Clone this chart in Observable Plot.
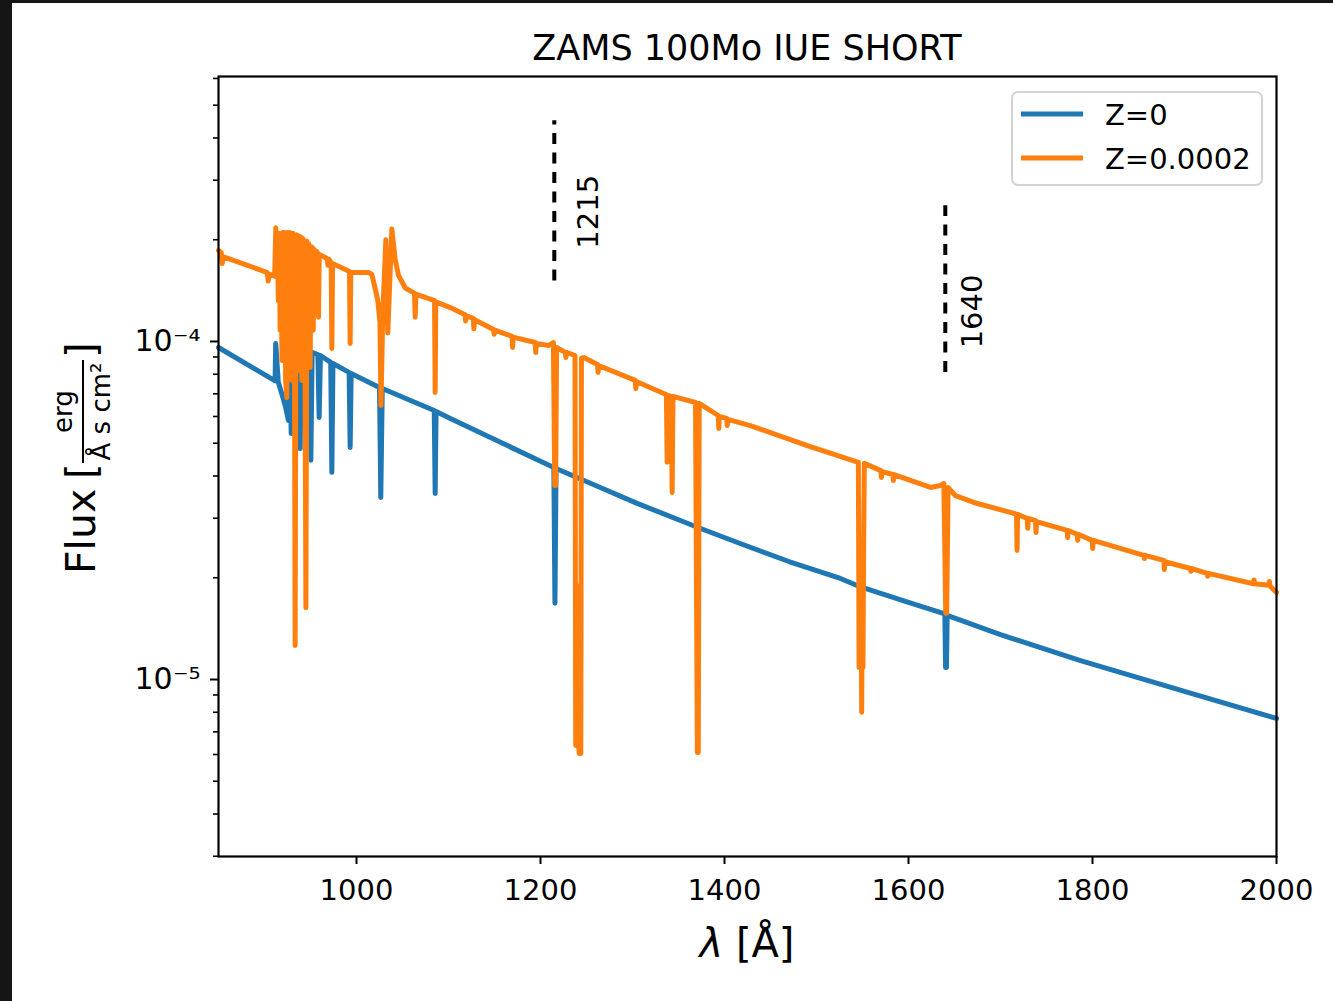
<!DOCTYPE html>
<html><head><meta charset="utf-8">
<script src="https://cdn.jsdelivr.net/npm/d3@7"></script>
<script src="https://cdn.jsdelivr.net/npm/@observablehq/plot@0.6"></script>
<style>
html,body{margin:0;padding:0;background:#151515;width:1333px;height:1001px;overflow:hidden;}
#page{position:absolute;left:12px;top:3px;width:1321px;height:998px;background:#fff;}
</style></head><body><div id="page"></div><script>
// ---- data ----
const title = "ZAMS 100Mo IUE SHORT";
const seriesNames = ["Z=0", "Z=0.0002"];
const seriesColors = ["#1f77b4", "#ff7f0e"];

// Z=0 spectrum: wavelength [Å] and flux [erg / (Å s cm^2)]
const blueLam = [850, 911.5, 912.2, 915, 920, 923, 926, 927.5, 929, 930.5, 937.5, 938.8, 940, 949, 950.4, 951.8,
  958, 959.4, 960.8, 972, 973.2, 974.4, 992, 993.1, 994.2, 1025, 1026.4, 1028, 1084.5, 1085.5, 1086.5, 1102,
  1200, 1214.5, 1215.7, 1216.9, 1265, 1305, 1374, 1417, 1470, 1526, 1548, 1600, 1639.5, 1640.3, 1641.3, 1642, 1700, 1787, 1900, 2000];
const blueFlux = [9.60e-5, 7.65e-5, 9.87e-5, 7.57e-5, 6.83e-5, 6.38e-5, 5.84e-5, 9.41e-5, 5.34e-5, 9.41e-5, 9.53e-5, 4.82e-5, 9.53e-5, 9.28e-5, 4.45e-5, 9.28e-5,
  9.15e-5, 5.96e-5, 9.09e-5, 8.67e-5, 4.10e-5, 8.61e-5, 8.10e-5, 4.86e-5, 8.04e-5, 7.31e-5, 3.455e-5, 7.26e-5, 6.25e-5, 3.55e-5, 6.21e-5, 5.92e-5,
  4.42e-5, 4.24e-5, 1.68e-5, 4.21e-5, 3.70e-5, 3.32e-5, 2.797e-5, 2.526e-5, 2.234e-5, 1.99e-5, 1.878e-5, 1.69e-5, 1.563e-5, 1.085e-5, 1.085e-5, 1.547e-5, 1.358e-5, 1.138e-5, 0.922e-5, 0.767e-5];

// Z=0.0002 spectrum
const orangeLam = [850, 853, 854, 855.5, 903, 904, 905.5, 911, 912.3, 913.2, 914, 915, 916, 917, 918, 919, 920, 921, 922, 923, 924.3,
  925.2, 926.5, 927.5, 928.5, 929.7, 930.6, 931.5, 932.3, 933.3, 934.3, 935.5, 936.5, 937.8, 938.8, 939.8, 940.6, 941.5, 942.5, 943.5,
  945, 946, 947, 948, 949.6, 950.6, 951.3, 952, 953, 954, 955.5, 956.5, 958, 958.7, 959.5, 968, 969, 970, 972.5, 973.2, 974, 992.4, 993.1, 993.8,
  1013, 1016.7, 1019.6, 1023, 1025.5, 1026.6, 1028.5, 1031.9, 1034, 1038.4, 1042, 1045.6, 1053, 1063, 1063.8, 1064.6,
  1084.8, 1085.5, 1086.2, 1102, 1118, 1118.6, 1119.3, 1127, 1127.6, 1128.3, 1149, 1149.6, 1150.3, 1169, 1169.6, 1170.3,
  1194.2, 1194.8, 1195.5, 1209, 1214, 1215.5, 1216.5, 1217.5, 1227, 1227.6, 1228.3,
  1237.5, 1238.3, 1239, 1239.8, 1240.6, 1241.4, 1242.2, 1243, 1243.8, 1244.5,
  1247, 1262, 1262.6, 1263.2, 1303, 1303.6, 1304.2, 1334, 1336.8, 1337.7, 1338.6, 1342.2, 1343.1, 1344, 1368.5, 1370.5, 1371.5, 1372.5,
  1393.2, 1393.8, 1394.4, 1402.4, 1403, 1403.6, 1428, 1490, 1545.5, 1546.3, 1547, 1547.7, 1548.4, 1549.1, 1549.8, 1550.5, 1551.2, 1552,
  1570, 1570.6, 1571.2, 1583, 1583.6, 1584.2, 1624, 1634.8, 1638.4, 1640.5, 1641.5, 1643, 1651, 1671, 1714.5, 1717.4, 1718, 1718.6,
  1729, 1729.6, 1730.2, 1738, 1738.6, 1739.2, 1772.5, 1773, 1773.6, 1783.3, 1783.9, 1784.5, 1799.6, 1800.2, 1800.8,
  1855.8, 1856.4, 1857, 1877.5, 1878.1, 1878.7, 1906.5, 1907, 1907.6, 1924.6, 1925.2, 1925.8, 1975, 1975.6, 1976.2, 1991.7, 1992.3, 1992.9, 2000];
const orangeFlux = [18.6e-5, 18.3e-5, 17.0e-5, 17.8e-5, 16.0e-5, 15.1e-5, 15.8e-5, 15.6e-5, 21.7e-5, 16.0e-5, 20.6e-5, 13.2e-5, 20.9e-5, 10.8e-5, 20.7e-5, 8.79e-5, 21.0e-5, 9.73e-5, 21.0e-5, 7.67e-5, 6.83e-5,
  21.0e-5, 10.8e-5, 21.0e-5, 9.41e-5, 7.67e-5, 20.9e-5, 13.2e-5, 20.7e-5, 1.26e-5, 20.7e-5, 12.35e-5, 20.6e-5, 8.21e-5, 20.4e-5, 13.2e-5, 7.67e-5, 20.2e-5, 11.5e-5, 19.9e-5,
  1.63e-5, 19.8e-5, 14.2e-5, 19.5e-5, 8.38e-5, 19.1e-5, 13.2e-5, 19.0e-5, 10.8e-5, 18.7e-5, 14.2e-5, 18.5e-5, 18.2e-5, 11.8e-5, 18.1e-5, 17.6e-5, 16.8e-5, 17.5e-5, 17.1e-5, 9.53e-5, 17.0e-5, 16.1e-5, 9.87e-5, 16.0e-5,
  16.0e-5, 15.8e-5, 14.6e-5, 13.3e-5, 11.4e-5, 6.47e-5, 11.9e-5, 20.0e-5, 10.6e-5, 21.5e-5, 17.5e-5, 15.7e-5, 14.4e-5, 13.9e-5, 11.8e-5, 13.8e-5,
  13.2e-5, 7.07e-5, 13.1e-5, 12.6e-5, 12.0e-5, 11.5e-5, 11.9e-5, 11.7e-5, 10.9e-5, 11.6e-5, 10.85e-5, 10.5e-5, 10.8e-5, 10.35e-5, 9.60e-5, 10.3e-5,
  9.93e-5, 9.28e-5, 9.87e-5, 9.73e-5, 9.93e-5, 3.75e-5, 3.75e-5, 9.60e-5, 9.28e-5, 8.97e-5, 9.28e-5,
  9.09e-5, 0.638e-5, 1.90e-5, 0.638e-5, 1.60e-5, 0.638e-5, 0.604e-5, 1.50e-5, 0.604e-5, 8.91e-5,
  8.97e-5, 8.55e-5, 8.10e-5, 8.49e-5, 7.67e-5, 7.26e-5, 7.61e-5, 7.02e-5, 6.97e-5, 4.39e-5, 6.92e-5, 6.88e-5, 3.575e-5, 6.88e-5, 6.60e-5, 0.608e-5, 0.608e-5, 6.56e-5,
  6.04e-5, 5.53e-5, 6.00e-5, 5.92e-5, 5.64e-5, 5.88e-5, 5.64e-5, 4.92e-5, 4.39e-5, 1.085e-5, 2.60e-5, 1.085e-5, 2.20e-5, 0.80e-5, 1.90e-5, 1.085e-5, 2.40e-5, 4.36e-5,
  4.15e-5, 3.96e-5, 4.12e-5, 4.04e-5, 3.88e-5, 4.04e-5, 3.70e-5, 3.75e-5, 3.80e-5, 1.57e-5, 1.57e-5, 3.70e-5, 3.50e-5, 3.34e-5, 3.10e-5, 3.08e-5, 2.41e-5, 3.08e-5,
  2.995e-5, 2.80e-5, 2.995e-5, 2.95e-5, 2.72e-5, 2.93e-5, 2.76e-5, 2.63e-5, 2.76e-5, 2.69e-5, 2.58e-5, 2.69e-5, 2.58e-5, 2.44e-5, 2.58e-5,
  2.33e-5, 2.28e-5, 2.33e-5, 2.25e-5, 2.115e-5, 2.23e-5, 2.13e-5, 2.09e-5, 2.13e-5, 2.06e-5, 2.02e-5, 2.06e-5, 1.92e-5, 1.97e-5, 1.92e-5, 1.90e-5, 1.95e-5, 1.89e-5, 1.81e-5];

// marked lines
const markerNames = ["1215", "1640"];
const markerLam = [1215, 1640];
const markerBottom = [1.51e-4, 8.1e-5];
const markerTop = [4.5e-4, 2.52e-4];
const markerLabelLam = [1252, 1670];
const markerLabelFlux = [2.42e-4, 1.227e-4];

// axes
const xDomain = [850, 2000];
const yDomain = [2.995e-6, 6.08e-4];
const xTicks = [1000, 1200, 1400, 1600, 1800, 2000];
const yMajorTicks = [1e-5, 1e-4];
const yMinorTicks = [3e-6, 4e-6, 5e-6, 6e-6, 7e-6, 8e-6, 9e-6, 2e-5, 3e-5, 4e-5, 5e-5, 6e-5, 7e-5, 8e-5, 9e-5, 2e-4, 3e-4, 4e-4, 5e-4, 6e-4];
const yMajorLabels = ["10⁻⁵", "10⁻⁴"];

// ---- build ----
const blue = blueLam.map((l, i) => ({lam: l, flux: blueFlux[i]}));
const orange = orangeLam.map((l, i) => ({lam: l, flux: orangeFlux[i]}));
const markers = markerNames.map((n, i) => ({name: n, lam: markerLam[i], bottom: markerBottom[i], top: markerTop[i], llam: markerLabelLam[i], lflux: markerLabelFlux[i]}));

const W = 1321, H = 998;
const chart = Plot.plot({
  width: W, height: H,
  marginLeft: 206, marginRight: 57, marginTop: 73, marginBottom: 145,
  style: {fontFamily: "DejaVu Sans", fontSize: "29px", color: "black", background: "white", overflow: "visible"},
  x: {domain: xDomain},
  y: {type: "log", domain: yDomain},
  marks: [
    Plot.line(blue, {x: "lam", y: "flux", stroke: seriesColors[0], strokeWidth: 5, strokeLinejoin: "round", strokeLinecap: "round"}),
    Plot.line(orange, {x: "lam", y: "flux", stroke: seriesColors[1], strokeWidth: 5, strokeLinejoin: "round", strokeLinecap: "round"}),
    Plot.ruleX(markers, {x: "lam", y1: "bottom", y2: "top", stroke: "black", strokeWidth: 4, strokeDasharray: "11,8.5"}),
    Plot.text(markers, {x: "llam", y: "lflux", text: "name", rotate: -90, fontSize: 29, fill: "black"}),
    Plot.axisX({ticks: xTicks, tickSize: 8, tickPadding: 15, strokeWidth: 2, tickFormat: d => String(d), label: null, fontSize: 29}),
    Plot.axisY({ticks: yMinorTicks, tickSize: 5, strokeWidth: 1.6, tickFormat: () => "", label: null}),
    Plot.axisY({ticks: yMajorTicks, tickSize: 8, tickPadding: 10, strokeWidth: 2, tickFormat: d => yMajorLabels[yMajorTicks.indexOf(d)], label: null, fontSize: 30}),
    Plot.frame({stroke: "black", strokeWidth: 2.2})
  ]
});
document.getElementById("page").appendChild(chart);

const svg = d3.select(chart);
const font = "DejaVu Sans";
// title
svg.append("text").attr("x", 735).attr("y", 57).attr("text-anchor", "middle")
  .attr("font-family", font).attr("font-size", 35).attr("fill", "black").text(title);
// x label
const xl = svg.append("text").attr("x", 735).attr("y", 954).attr("text-anchor", "middle")
  .attr("font-family", font).attr("font-size", 40).attr("fill", "black");
xl.append("tspan").attr("font-style", "italic").text("λ");
xl.append("tspan").text(" [Å]");
// y label
const yl = svg.append("g").attr("transform", "translate(70,463) rotate(-90)")
  .attr("font-family", font).attr("fill", "black").attr("text-anchor", "start");
yl.append("text").attr("x", -108).attr("y", 13).attr("font-size", 41).attr("text-anchor", "start").text("Flux");
yl.append("text").attr("x", -13).attr("y", 13).attr("font-size", 40).attr("text-anchor", "start").text("[");
yl.append("line").attr("x1", 3).attr("x2", 106).attr("y1", 1).attr("y2", 1).attr("stroke", "black").attr("stroke-width", 2);
yl.append("text").attr("x", 54.5).attr("y", -10).attr("font-size", 26).attr("text-anchor", "middle").text("erg");
yl.append("text").attr("x", 54.5).attr("y", 28).attr("font-size", 26).attr("text-anchor", "middle").text("Å s cm²");
yl.append("text").attr("x", 108).attr("y", 13).attr("font-size", 40).attr("text-anchor", "start").text("]");
// legend
const lg = svg.append("g").attr("font-family", font).attr("text-anchor", "start");
lg.append("rect").attr("x", 1000).attr("y", 89).attr("width", 250).attr("height", 93).attr("rx", 6)
  .attr("fill", "white").attr("fill-opacity", 0.8).attr("stroke", "#d3d3d3").attr("stroke-width", 2);
seriesNames.forEach((n, i) => {
  const yy = 111 + i * 44;
  lg.append("line").attr("x1", 1009).attr("x2", 1071).attr("y1", yy).attr("y2", yy)
    .attr("stroke", seriesColors[i]).attr("stroke-width", 5);
  lg.append("text").attr("x", 1093).attr("y", yy + 11).attr("font-size", 29).attr("fill", "black")
    .attr("text-anchor", "start").text(n);
});
</script></body></html>
